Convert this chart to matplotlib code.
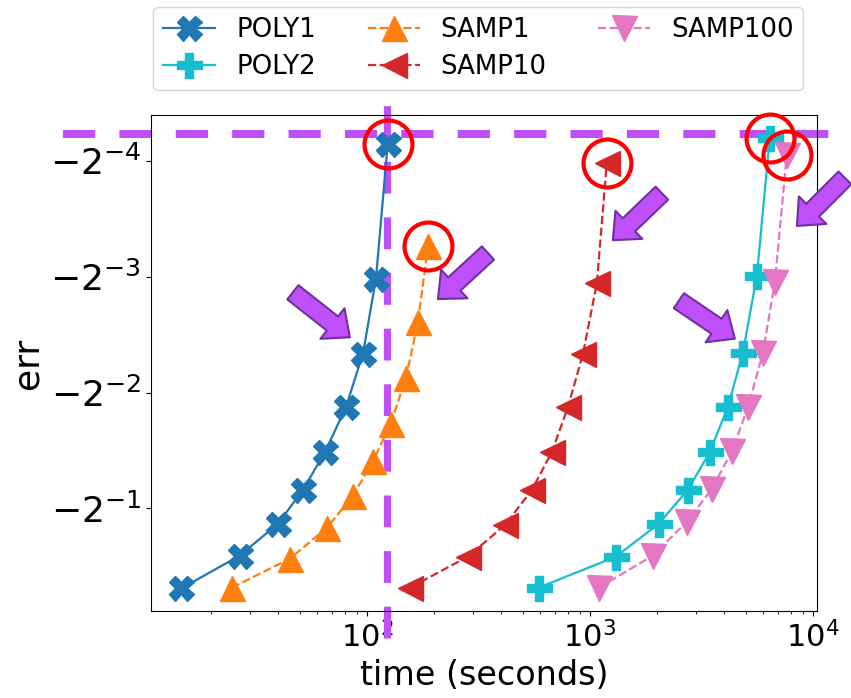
import numpy as np
import matplotlib
matplotlib.use("Agg")
import matplotlib.pyplot as plt
from matplotlib.transforms import offset_copy

# ---- data (time in seconds, err) ----
poly1_t = [14.7, 26.9, 39.9, 51.6, 64.8, 80.5, 96.0, 109.7, 124.0]
poly1_err = [-0.807, -0.663, -0.548, -0.448, -0.357, -0.273, -0.198, -0.127, -0.0565]
poly2_t = [590, 1309, 2036, 2748, 3449, 4156, 4856, 5610, 6412]
poly2_err = [-0.803, -0.667, -0.548, -0.448, -0.357, -0.273, -0.197, -0.1245, -0.0544]
samp1_t = [24.8, 45.2, 66.2, 86.5, 106.4, 128.0, 149.6, 169.4, 187.9]
samp1_err = [-0.803, -0.675, -0.561, -0.464, -0.377, -0.301, -0.229, -0.164, -0.104]
samp10_t = [156, 284, 416, 549, 675, 797, 930, 1075, 1191]
samp10_err = [-0.803, -0.667, -0.552, -0.448, -0.357, -0.273, -0.199, -0.130, -0.0632]
samp100_t = [1096, 1918, 2722, 3524, 4335, 5118, 5974, 6761, 7638]
samp100_err = [-0.803, -0.663, -0.5415, -0.445, -0.355, -0.273, -0.197, -0.129, -0.0605]

series_names = ["POLY1", "POLY2", "SAMP1", "SAMP10", "SAMP100"]

ref_time = 123.0
ref_err = -0.0533

purple = "#bf50f8"
purple_edge = "#7030a0"

fig = plt.figure(figsize=(8.51, 6.98), dpi=100)
ax = fig.add_axes([151 / 851, (698 - 611) / 698, 666 / 851, 496 / 698])

styles = {
    "POLY1": dict(color="tab:blue", marker="X", ls="-"),
    "POLY2": dict(color="tab:cyan", marker="P", ls="-"),
    "SAMP1": dict(color="tab:orange", marker="^", ls="--"),
    "SAMP10": dict(color="tab:red", marker="<", ls="--"),
    "SAMP100": dict(color="tab:pink", marker="v", ls="--"),
}
data = {
    "POLY1": (poly1_t, poly1_err),
    "POLY2": (poly2_t, poly2_err),
    "SAMP1": (samp1_t, samp1_err),
    "SAMP10": (samp10_t, samp10_err),
    "SAMP100": (samp100_t, samp100_err),
}

for name in series_names:
    t, e = data[name]
    ax.plot(t, e, label=name, ms=18, lw=1.6, zorder=3, **styles[name])

ax.set_xscale("log")
ax.set_yscale("symlog", base=2, linthresh=2 ** -8)

# 5% margins in log space
all_t = np.concatenate([data[n][0] for n in series_names])
all_e = np.abs(np.concatenate([data[n][1] for n in series_names]))
lt0, lt1 = np.log10(all_t.min()), np.log10(all_t.max())
m = 0.05 * (lt1 - lt0)
ax.set_xlim(10 ** (lt0 - m), 10 ** (lt1 + m))
le0, le1 = np.log2(all_e.min()), np.log2(all_e.max())
m = 0.05 * (le1 - le0)
ax.set_ylim(-(2 ** (le1 + m)), -(2 ** (le0 - m)))

# reference lines
ax.axhline(ref_err, xmin=-0.132, xmax=1.08, color=purple, lw=5.8,
           ls=(0, (4, 3)), clip_on=False, zorder=2.2)
ax.axvline(ref_time, ymin=-0.0544, ymax=1.0242, color=purple, lw=5.2,
           ls=(0, (4.4, 3.3)), clip_on=False, zorder=2.2)

# red circles on the final point of each series
for name in series_names:
    t, e = data[name]
    ax.plot([t[-1]], [e[-1]], "o", ms=34.5, mfc="none", mec="red", mew=3,
            clip_on=False, zorder=5)

# purple arrows: (series, anchor index, tip offset px, tail offset px) (y down)
arrows = [
    ("POLY1", 7, (-26, 58), (-83, 13)),
    ("SAMP1", 7, (20, -23), (70, -69)),
    ("SAMP10", 7, (16, -43), (65, -90)),
    ("POLY2", 6, (-8, -14), (-64, -52)),
    ("SAMP100", 7, (22, -56), (70, -104)),
]
for name, idx, tip, tail in arrows:
    t, e = data[name]
    tr = offset_copy(ax.transData, fig=fig, x=tip[0], y=-tip[1], units="dots")
    ax.annotate("", xy=(t[idx], e[idx]), xycoords=tr,
                xytext=(tail[0] - tip[0], -(tail[1] - tip[1])),
                textcoords="offset pixels",
                arrowprops=dict(arrowstyle="simple,head_length=1.6,head_width=2.8,tail_width=1.3",
                                mutation_scale=10, fc=purple, ec=purple_edge, lw=1.5,
                                shrinkA=0, shrinkB=0),
                annotation_clip=False, zorder=6)

ax.tick_params(axis="x", labelsize=22)
ax.tick_params(axis="y", labelsize=26)
ax.set_xlabel("time (seconds)", fontsize=24)
ax.set_ylabel("err", fontsize=26)

ax.legend(loc="lower center", bbox_to_anchor=(0.4917, 1.0504), borderaxespad=0,
          ncol=3, fontsize=18.7, labelspacing=0.42, borderpad=0.38)

fig.savefig("out.png", dpi=100)
